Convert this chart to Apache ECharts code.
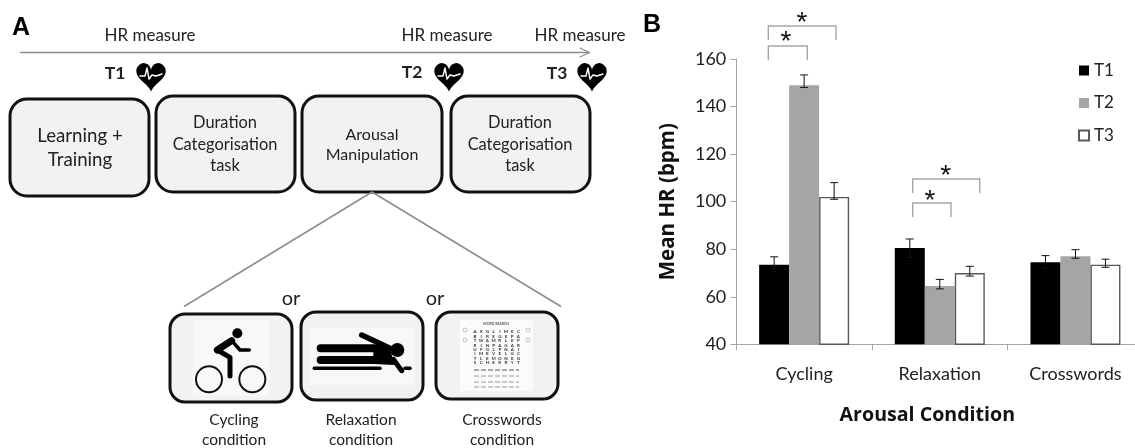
<!DOCTYPE html>
<html><head><meta charset="utf-8">
<style>html,body{margin:0;padding:0;background:#fff}#c{width:1135px;height:448px}</style>
<script src="https://cdn.jsdelivr.net/npm/echarts@6/dist/echarts.min.js"></script>
</head><body><div id="c"></div>
<script>
const categories = ['Cycling', 'Relaxation', 'Crosswords'];
const seriesNames = ['T1', 'T2', 'T3'];
const t1 = [73.5, 80.5, 74.5];
const t2 = [149, 64.5, 77];
const t3 = [102, 70, 73.5];
const t1Low = [70.5, 76.5, 72];
const t1High = [76.8, 84.3, 77.3];
const t2Low = [148, 63.3, 76.2];
const t2High = [153.3, 67.3, 79.8];
const t3Low = [101, 68.7, 72.4];
const t3High = [108, 72.8, 75.8];
const yTicks = {min: 40, max: 160, interval: 20};
const gridRows = ['AXGLIMEC','BIREGEPA','TWAMRLEP','RINPAGAR','UFGLPNAI','IMEVELGC','TLEMONEG','SCHERRYT'];

const FONT = 'Lato, "Open Sans", sans-serif';
const GREY = '#8c8c8c', TXT = '#222';
const g = [];
const text = (x, y, s, size, o = {}) => g.push({type: 'text', x, y, silent: true, z: o.z || 5, style: {
  text: s, fontSize: size, fontFamily: o.font || FONT, fontWeight: o.weight || 'normal',
  fill: o.fill || TXT, align: o.align || 'center', verticalAlign: 'middle'}});
const line = (x1, y1, x2, y2, color, w, dash) => g.push({type: 'line', silent: true, z: 4,
  shape: {x1, y1, x2, y2}, style: {stroke: color, lineWidth: w, lineDash: dash || null}});
const poly = (points, color, w) => g.push({type: 'polyline', silent: true, z: 4,
  shape: {points}, style: {stroke: color, lineWidth: w, fill: null, lineJoin: 'round', lineCap: 'round'}});
const box = (x, y, w, h, r) => g.push({type: 'rect', silent: true, z: 2,
  shape: {x, y, width: w, height: h, r}, style: {fill: '#f2f2f2', stroke: '#111', lineWidth: 3}});
const rect = (x, y, w, h, fill) => g.push({type: 'rect', silent: true, z: 3,
  shape: {x, y, width: w, height: h}, style: {fill}});
const circle = (cx, cy, r, fill, stroke, w) => g.push({type: 'circle', silent: true, z: 4,
  shape: {cx, cy, r}, style: {fill, stroke, lineWidth: w || 0}});

// panel letters
text(21, 28, 'A', 25, {font: '"Liberation Sans"', weight: 'bold', fill: '#000'});
text(652, 25, 'B', 25, {font: '"Liberation Sans"', weight: 'bold', fill: '#000'});

// timeline
line(20, 52.5, 589, 52.5, GREY, 1.5);
poly([[580, 48], [589.5, 52.5], [580, 57]], GREY, 1.2);
[[150, 'HR measure'], [447, 'HR measure'], [580, 'HR measure']].forEach(a => text(a[0], 36, a[1], 17));

// hearts
const heart = (cx, cy) => {
  const pts = [];
  for (let i = 0; i < 48; i++) {
    const t = i / 48 * 2 * Math.PI, s = Math.sin(t);
    pts.push([cx + 0.92 * 16 * s * s * s,
      cy - 1.0 * (13 * Math.cos(t) - 5 * Math.cos(2 * t) - 2 * Math.cos(3 * t) - Math.cos(4 * t))]);
  }
  g.push({type: 'polygon', silent: true, z: 4, shape: {points: pts}, style: {fill: '#000'}});
  poly([[cx - 11, cy + 1], [cx - 6, cy + 1], [cx - 4, cy - 7], [cx - 2, cy + 4], [cx + 1, cy], [cx + 5, cy + 1], [cx + 11, cy - 1]], '#fff', 1.4);
  g[g.length - 1].z = 5;
};
heart(151, 75); heart(449, 75); heart(592, 75);
text(115, 73, 'T1', 17.5, {weight: 'bold'});
text(412, 72, 'T2', 17.5, {weight: 'bold'});
text(557, 73, 'T3', 17.5, {weight: 'bold'});

// process boxes
box(10, 99, 139, 97, 17);
box(156, 96, 139, 96, 17);
box(302, 96, 140, 96, 17);
box(451, 96, 139, 96, 17);
text(80, 136, 'Learning +', 18.7); text(80, 160, 'Training', 18.7);
[225, 520].forEach(x => {
  text(x, 123, 'Duration', 16.4); text(x, 145, 'Categorisation', 16.4); text(x, 166, 'task', 16.4);
});
text(372, 135, 'Arousal', 16); text(372, 155, 'Manipulation', 16);

// fan lines
line(372, 192, 184, 306.5, GREY, 1.5);
line(372, 192, 561, 306.5, GREY, 1.5);
text(291, 299, 'or', 20); text(435, 299, 'or', 20);

// condition boxes
box(170, 314, 122, 88, 15);
box(301, 312, 122, 88, 15);
box(436, 312, 122, 87, 15);
const Z = (x, y) => [160 + x / 3, 270 + y / 3];

// bicycle icon
rect(193, 320, 76, 76, '#f8f8f8');
circle(...Z(232, 190), 5, '#000');
circle(...Z(147, 328), 13, 'none', '#111', 2);
circle(...Z(277, 328), 13, 'none', '#111', 2);
poly([Z(172, 240), Z(215, 212)], '#000', 7);
poly([Z(215, 212), Z(240, 240), Z(268, 240)], '#000', 3.5);
poly([Z(172, 240), Z(210, 262), Z(210, 318)], '#000', 5);

// relaxation icon
rect(310, 328, 105, 57, '#f8f8f8');
poly([Z(482, 235), Z(660, 235)], '#000', 8);
poly([Z(482, 270), Z(680, 270)], '#000', 8);
poly([Z(605, 195), Z(690, 235)], '#000', 5.5);
g.push({type: 'polygon', silent: true, z: 4, shape: {points: [Z(640, 224), Z(688, 232), Z(705, 285), Z(640, 282)]}, style: {fill: '#000'}});
circle(...Z(712, 240), 7, '#000');
poly([Z(700, 268), Z(725, 302)], '#000', 5);
poly([Z(463, 295), Z(660, 295)], '#000', 3.5);
poly([Z(735, 295), Z(750, 295)], '#000', 3.5);

// crossword icon
rect(460, 320, 73, 71, '#fbfbfb');
gridRows.forEach((row, r) => row.split('').forEach((ch, c) =>
  text(475 + c * 6.2, 332 + r * 4.4, ch, 4.5, {fill: '#333', weight: 'bold'})));
text(496, 323.5, 'WORD SEARCH', 3.5, {fill: '#555', weight: 'bold'});
[370, 376, 382, 387].forEach((y, i) => line(474, y, 519, y, i ? '#999' : '#555', 1, [5, 2]));
[[465, 330], [465, 340], [528, 330], [528, 340]].forEach(p => circle(p[0], p[1], 2, 'none', '#aaa', 0.7));

text(234, 420, 'Cycling', 15.5); text(234, 440, 'condition', 15.5);
text(361, 420, 'Relaxation', 15.5); text(361, 440, 'condition', 15.5);
text(502, 420, 'Crosswords', 15.5); text(502, 440, 'condition', 15.5);

// significance brackets
const BR = '#a6a6a6';
const bracket = (x1, x2, top, bottom) => g.push({type: 'polyline', silent: true, z: 4,
  shape: {points: [[x1, bottom], [x1, top], [x2, top], [x2, bottom]]}, style: {stroke: BR, lineWidth: 1.4, fill: null}});
bracket(768.3, 836, 26, 40);
bracket(768.3, 807.3, 46, 60);
bracket(912.7, 979.7, 179, 193);
bracket(912.7, 951, 203, 217);
const star = (x, y) => text(x, y, '*', 28, {font: '"Liberation Sans"', fill: '#111'});
star(802, 23); star(786, 42); star(945.7, 176); star(930, 201);

const barPct = 0.2211;
const errData = [];
[[t1Low, t1High], [t2Low, t2High], [t3Low, t3High]].forEach((p, s) =>
  categories.forEach((_, i) => errData.push([i, p[0][i], p[1][i], s - 1])));

const TITLE = {fontWeight: 'bold', color: '#111', fontFamily: '"Open Sans", sans-serif'};
const option = {
  animation: false,
  backgroundColor: '#fff',
  textStyle: {fontFamily: FONT},
  grid: {left: 736.3, top: 59, width: 407, height: 285.3, containLabel: false, outerBoundsMode: 'none'},
  legend: {
    data: seriesNames, orient: 'vertical', left: 1078, top: 62, padding: 0, icon: 'rect',
    itemWidth: 10, itemHeight: 10, itemGap: 15.5,
    textStyle: {fontSize: 17, color: TXT, fontFamily: FONT}
  },
  graphic: {elements: g},
  xAxis: {
    type: 'category', data: categories,
    axisLine: {lineStyle: {color: '#a6a6a6', width: 1}},
    axisTick: {show: true, alignWithLabel: false, length: 6, lineStyle: {color: '#a6a6a6'}},
    axisLabel: {fontSize: 18, color: TXT, margin: 21, fontFamily: FONT, interval: 0},
    name: 'Arousal Condition', nameLocation: 'middle', nameGap: 61,
    nameTextStyle: Object.assign({fontSize: 19.6, padding: [0, 25, 0, 0]}, TITLE)
  },
  yAxis: {
    type: 'value', min: yTicks.min, max: yTicks.max, interval: yTicks.interval,
    splitLine: {show: false},
    axisLine: {show: true, lineStyle: {color: '#a6a6a6', width: 1}},
    axisTick: {show: true, length: 6, lineStyle: {color: '#a6a6a6'}},
    axisLabel: {fontSize: 18, color: TXT, margin: 10, fontFamily: FONT},
    name: 'Mean HR (bpm)', nameLocation: 'middle', nameGap: 58,
    nameTextStyle: Object.assign({fontSize: 20.5}, TITLE)
  },
  series: [
    {name: 'T1', type: 'bar', data: t1, barWidth: '22.11%', barGap: 0, itemStyle: {color: '#000'}},
    {name: 'T2', type: 'bar', data: t2, barWidth: '22.11%', barGap: 0, itemStyle: {color: '#a5a5a5'}},
    {name: 'T3', type: 'bar', data: t3, barWidth: '22.11%', barGap: 0, itemStyle: {color: '#fff', borderColor: '#595959', borderWidth: 1.4}},
    {name: 'err', type: 'custom', data: errData, z: 10, clip: false, silent: true,
      encode: {x: 0, y: [1, 2]},
      renderItem(params, api) {
        const band = api.size([1, 0])[0];
        const off = api.value(3) * band * barPct;
        const lo = api.coord([api.value(0), api.value(1)]);
        const hi = api.coord([api.value(0), api.value(2)]);
        const x = lo[0] + off, cap = 4;
        const st = {stroke: '#111', lineWidth: 1, fill: null};
        return {type: 'group', children: [
          {type: 'line', shape: {x1: x, y1: lo[1], x2: x, y2: hi[1]}, style: st},
          {type: 'line', shape: {x1: x - cap, y1: lo[1], x2: x + cap, y2: lo[1]}, style: st},
          {type: 'line', shape: {x1: x - cap, y1: hi[1], x2: x + cap, y2: hi[1]}, style: st}
        ]};
      }}
  ]
};
echarts.init(document.getElementById('c')).setOption(option);
</script></body></html>
